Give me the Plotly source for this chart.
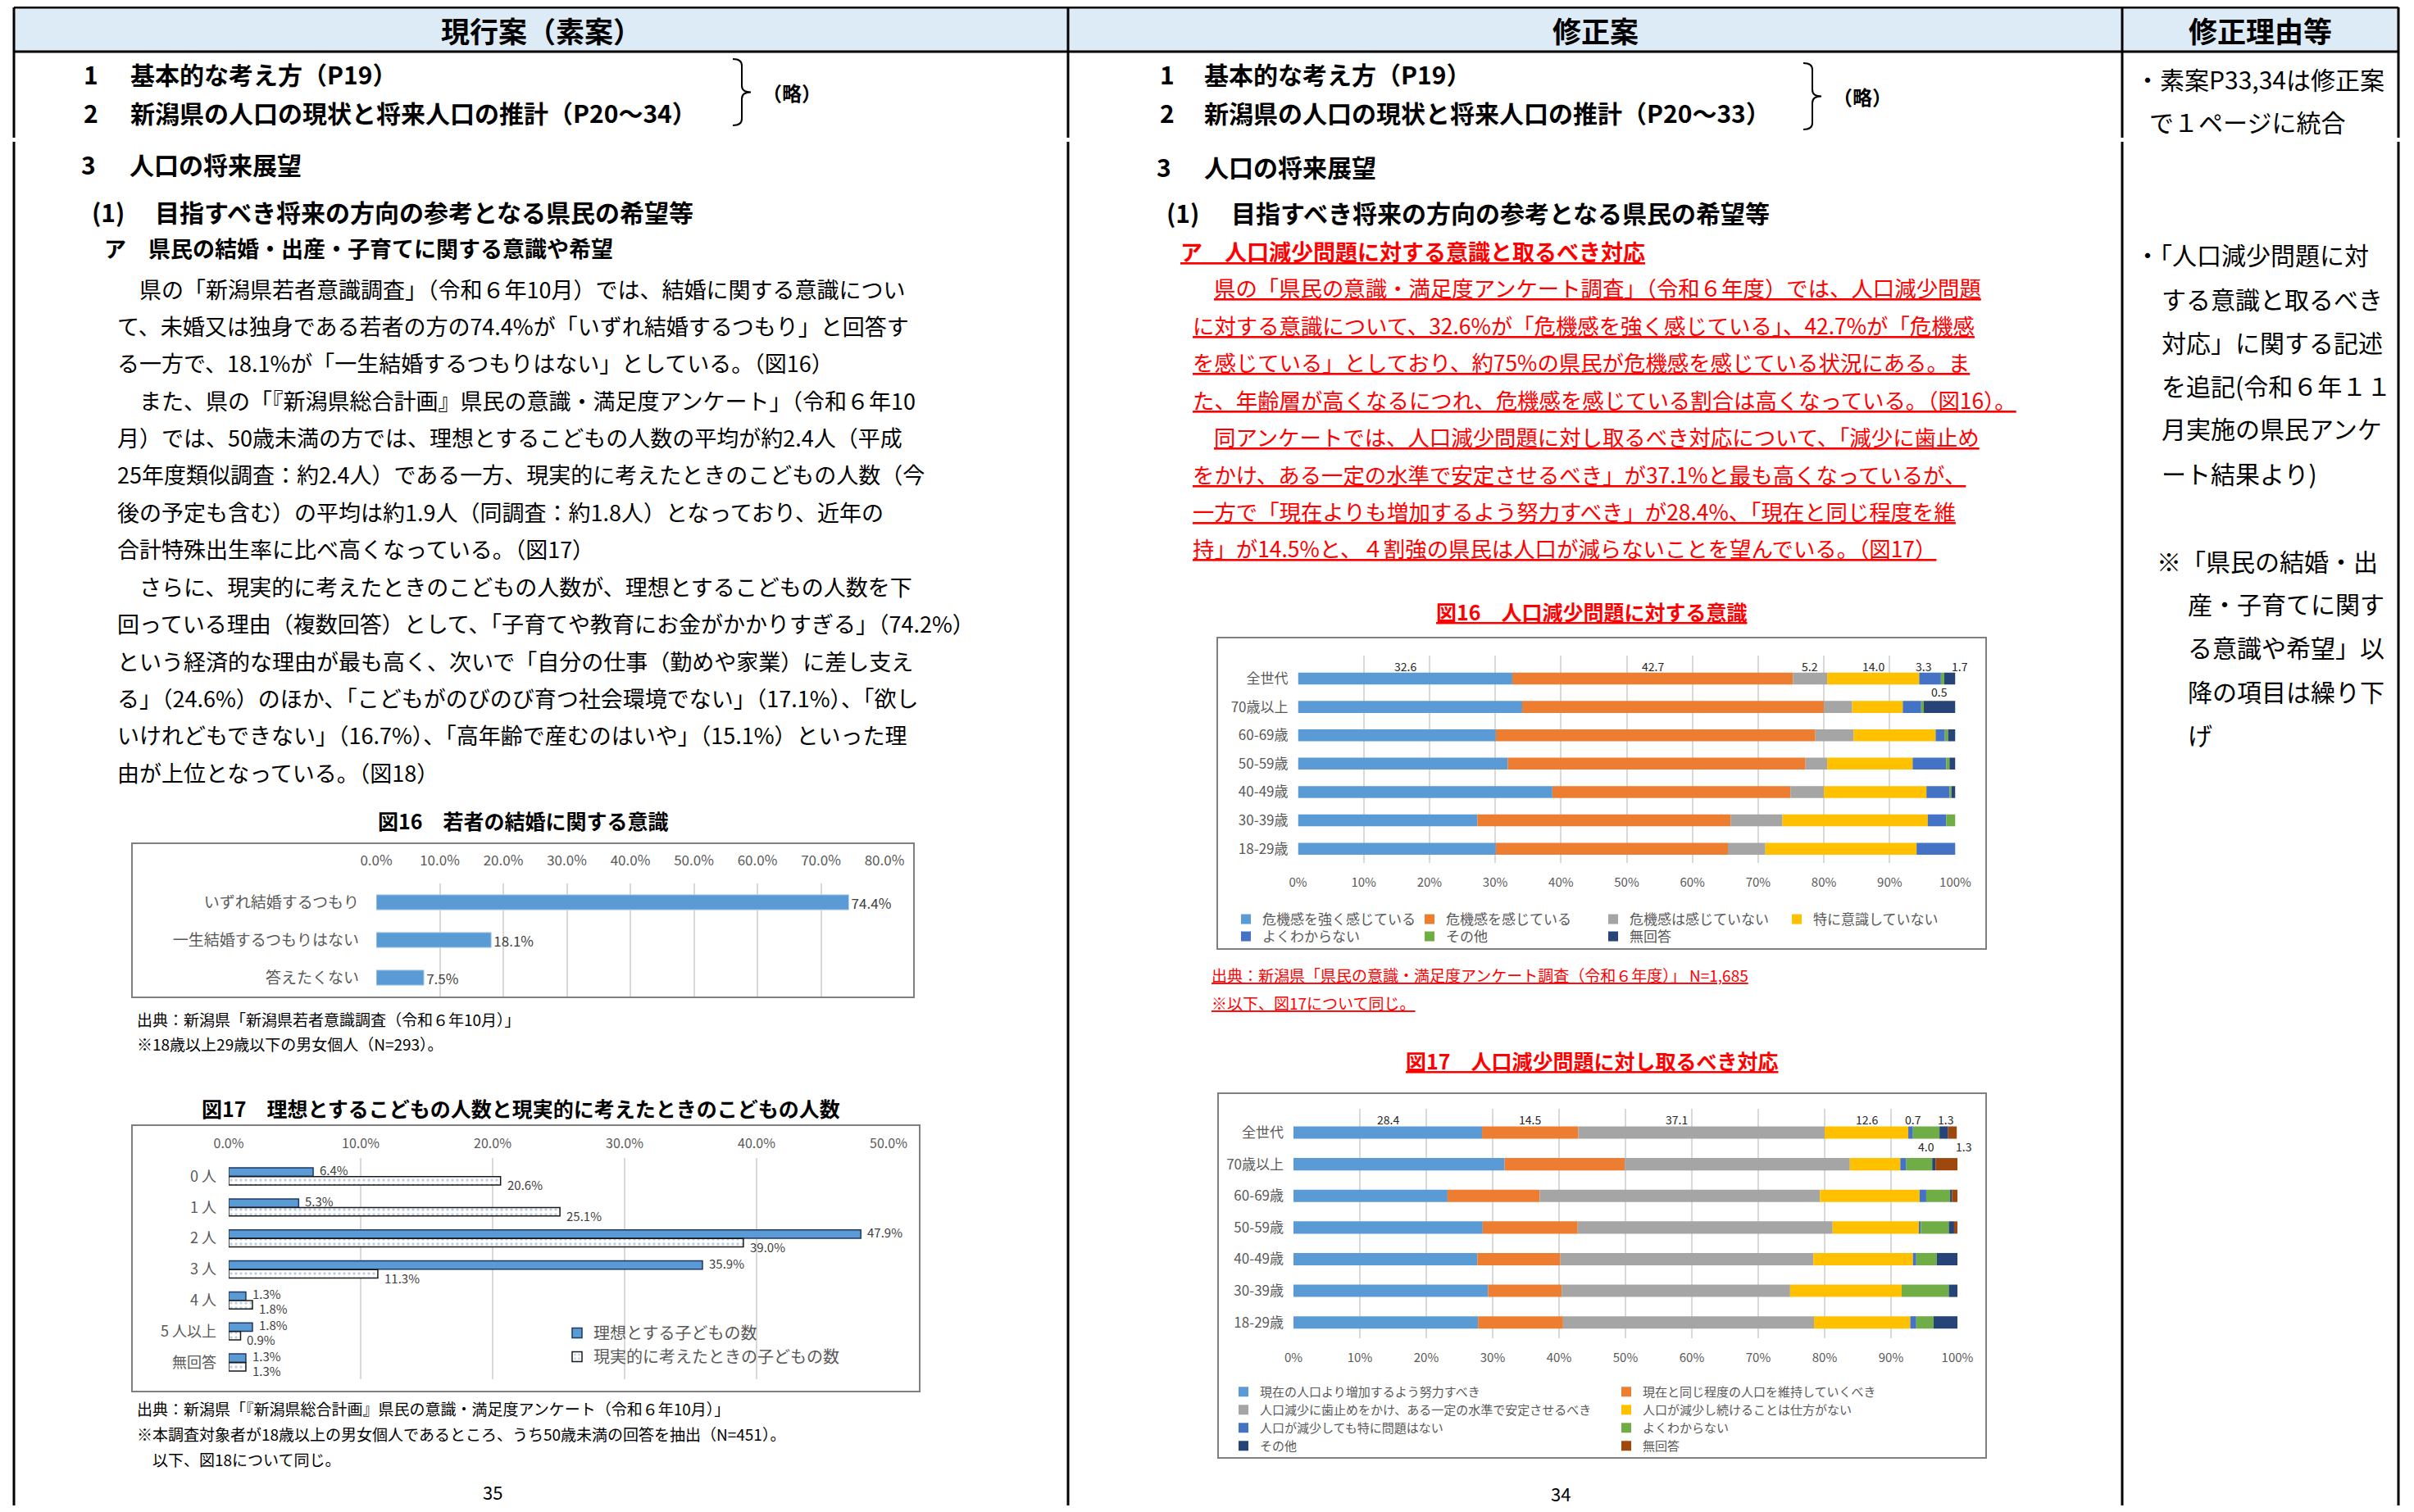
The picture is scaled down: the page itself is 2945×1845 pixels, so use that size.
import numpy as np
import plotly.graph_objects as go

# page geometry: the browser page is 2945x1845; the default body margin is 8px,
# so the figure itself is 16px smaller in each direction and fills the page exactly.
PAGE_W, PAGE_H = 2945, 1845
MARGIN = 8
FW, FH = PAGE_W - 2 * MARGIN, PAGE_H - 2 * MARGIN

FONT = "Noto Sans CJK JP"
TXT = "#000000"
AX = "#595959"
LAB = "#404040"
RED = "#FF0000"
GRID = "#D9D9D9"

# ---------------- data ----------------
fig16L_cats = ["いずれ結婚するつもり", "一生結婚するつもりはない", "答えたくない"]
fig16L_vals = [74.4, 18.1, 7.5]

fig17L_cats = ["0 人", "1 人", "2 人", "3 人", "4 人", "5 人以上", "無回答"]
fig17L_names = ["理想とする子どもの数", "現実的に考えたときの子どもの数"]
fig17L_ideal = [6.4, 5.3, 47.9, 35.9, 1.3, 1.8, 1.3]
fig17L_real = [20.6, 25.1, 39.0, 11.3, 1.8, 0.9, 1.3]

ages = ["全世代", "70歳以上", "60-69歳", "50-59歳", "40-49歳", "30-39歳", "18-29歳"]

fig16R_names = ["危機感を強く感じている", "危機感を感じている", "危機感は感じていない",
                "特に意識していない", "よくわからない", "その他", "無回答"]
fig16R_strong = [32.6, 34.1, 30.1, 31.9, 38.7, 27.3, 30.1]
fig16R_feel = [42.7, 45.9, 48.6, 45.3, 36.2, 38.5, 35.3]
fig16R_notfeel = [5.2, 4.3, 5.8, 3.3, 5.1, 7.9, 5.7]
fig16R_noaware = [14.0, 7.7, 12.5, 13.0, 15.6, 22.1, 23.0]
fig16R_unknown = [3.3, 2.8, 1.4, 5.1, 3.5, 2.8, 5.9]
fig16R_other = [0.5, 0.4, 0.5, 0.5, 0.3, 1.4, 0.0]
fig16R_noans = [1.7, 4.8, 1.1, 0.9, 0.6, 0.0, 0.0]

fig17R_names = ["現在の人口より増加するよう努力すべき", "現在と同じ程度の人口を維持していくべき",
                "人口減少に歯止めをかけ、ある一定の水準で安定させるべき", "人口が減少し続けることは仕方がない",
                "人口が減少しても特に問題はない", "よくわからない", "その他", "無回答"]
fig17R_increase = [28.4, 31.8, 23.2, 28.5, 27.7, 29.3, 27.8]
fig17R_keep = [14.5, 18.1, 13.9, 14.3, 12.5, 11.1, 12.8]
fig17R_stop = [37.1, 33.9, 42.2, 38.4, 38.1, 34.4, 37.8]
fig17R_accept = [12.6, 7.6, 15.0, 13.1, 15.0, 16.8, 14.5]
fig17R_noproblem = [0.7, 0.9, 1.0, 0.2, 0.5, 0.0, 0.9]
fig17R_unknown = [4.0, 3.9, 3.6, 4.2, 3.1, 7.1, 2.6]
fig17R_other = [1.3, 0.5, 0.3, 0.8, 3.1, 1.3, 3.6]
fig17R_noans = [1.3, 3.3, 0.8, 0.5, 0.0, 0.0, 0.0]

# ---------------- text ----------------
left_para = [
    (True, "県の「新潟県若者意識調査」（令和６年10月）では、結婚に関する意識につい"),
    (False, "て、未婚又は独身である若者の方の74.4%が「いずれ結婚するつもり」と回答す"),
    (False, "る一方で、18.1%が「一生結婚するつもりはない」としている。（図16）"),
    (True, "また、県の「『新潟県総合計画』県民の意識・満足度アンケート」（令和６年10"),
    (False, "月）では、50歳未満の方では、理想とするこどもの人数の平均が約2.4人（平成"),
    (False, "25年度類似調査：約2.4人）である一方、現実的に考えたときのこどもの人数（今"),
    (False, "後の予定も含む）の平均は約1.9人（同調査：約1.8人）となっており、近年の"),
    (False, "合計特殊出生率に比べ高くなっている。（図17）"),
    (True, "さらに、現実的に考えたときのこどもの人数が、理想とするこどもの人数を下"),
    (False, "回っている理由（複数回答）として、「子育てや教育にお金がかかりすぎる」（74.2%）"),
    (False, "という経済的な理由が最も高く、次いで「自分の仕事（勤めや家業）に差し支え"),
    (False, "る」（24.6%）のほか、「こどもがのびのび育つ社会環境でない」（17.1%）、「欲し"),
    (False, "いけれどもできない」（16.7%）、「高年齢で産むのはいや」（15.1%）といった理"),
    (False, "由が上位となっている。（図18）"),
]
right_para = [
    (True, "県の「県民の意識・満足度アンケート調査」（令和６年度）では、人口減少問題"),
    (False, "に対する意識について、32.6%が「危機感を強く感じている」、42.7%が「危機感"),
    (False, "を感じている」としており、約75%の県民が危機感を感じている状況にある。ま"),
    (False, "た、年齢層が高くなるにつれ、危機感を感じている割合は高くなっている。（図16）。"),
    (True, "同アンケートでは、人口減少問題に対し取るべき対応について、「減少に歯止め"),
    (False, "をかけ、ある一定の水準で安定させるべき」が37.1%と最も高くなっているが、"),
    (False, "一方で「現在よりも増加するよう努力すべき」が28.4%、「現在と同じ程度を維"),
    (False, "持」が14.5%と、４割強の県民は人口が減らないことを望んでいる。（図17）"),
]
reason_lines = [
    (2603, 96, "・素案P33,34は修正案"),
    (2620, 148, "で１ページに統合"),
    (2603, 310, "・「人口減少問題に対"),
    (2635, 364, "する意識と取るべき"),
    (2635, 417, "対応」に関する記述"),
    (2635, 470, "を追記(令和６年１１"),
    (2635, 522, "月実施の県民アンケ"),
    (2635, 577, "ート結果より)"),
    (2629, 684, "※「県民の結婚・出"),
    (2667, 736, "産・子育てに関す"),
    (2667, 789, "る意識や希望」以"),
    (2667, 843, "降の項目は繰り下"),
    (2667, 896, "げ"),
]


def X(p):
    return (p - MARGIN) / FW


def Y(p):
    return 1 - (p - MARGIN) / FH


fig = go.Figure()

# ---- left fig16 ----
fig.add_trace(go.Bar(
    x=fig16L_vals, y=fig16L_cats, orientation="h", width=0.4,
    marker=dict(color="#5B9BD5", line=dict(color="#BDD7EE", width=1)),
    text=[f"{v:.1f}%" for v in fig16L_vals], textposition="outside", constraintext="none",
    cliponaxis=False, textfont=dict(family=FONT, size=17, color=LAB),
    xaxis="x", yaxis="y", showlegend=False, hoverinfo="skip"))

# ---- left fig17 ----
fig.add_trace(go.Bar(
    x=fig17L_ideal, y=fig17L_cats, orientation="h", name=fig17L_names[0],
    offset=-0.275, width=0.27,
    marker=dict(color="#5B9BD5", line=dict(color="#1F3864", width=1.5)),
    xaxis="x2", yaxis="y2", legend="legend", hoverinfo="skip"))
fig.add_trace(go.Bar(
    x=fig17L_real, y=fig17L_cats, orientation="h", name=fig17L_names[1],
    offset=0.005, width=0.27,
    marker=dict(color="white",
                pattern=dict(shape=".", fgcolor="#7F9FC6", bgcolor="white", size=6, solidity=0.25),
                line=dict(color="#1A1A1A", width=1.5)),
    xaxis="x2", yaxis="y2", legend="legend", hoverinfo="skip"))

lab17L = []
for vals, dy in ((fig17L_ideal, 8), (fig17L_real, -10)):
    for c, v in zip(fig17L_cats, vals):
        lab17L.append(dict(x=v, y=c, xref="x2", yref="y2", text=f"{v:.1f}%", showarrow=False,
                           xanchor="left", yanchor="middle", xshift=6, yshift=dy,
                           font=dict(family=FONT, size=15, color=LAB)))


def stacked(names, values, colors, legends, xa, ya, width, shifts):
    base = np.zeros(len(ages))
    labels = []
    for nm, vals, col, lg, (dx, dy) in zip(names, values, colors, legends, shifts):
        v = np.asarray(vals, dtype=float)
        fig.add_trace(go.Bar(
            x=v, y=ages, base=base.copy(), orientation="h", name=nm, width=width,
            marker=dict(color=col, line=dict(width=0)),
            xaxis=xa, yaxis=ya, legend=lg, hoverinfo="skip"))
        labels.append(dict(x=base[0] + v[0] / 2, y=ages[0], xref=xa, yref=ya,
                           text=f"{v[0]:.1f}", showarrow=False, xshift=dx, yshift=dy,
                           font=dict(family=FONT, size=14, color="#262626")))
        base = base + v
    return labels


C8 = ["#5B9BD5", "#ED7D31", "#A5A5A5", "#FFC000", "#4472C4", "#70AD47", "#264478", "#9E480E"]

# legends are one per row (horizontal), so rows/columns line up like the original
lab16 = stacked(
    fig16R_names,
    [fig16R_strong, fig16R_feel, fig16R_notfeel, fig16R_noaware, fig16R_unknown, fig16R_other, fig16R_noans],
    C8[:7],
    ["legend2", "legend2", "legend2", "legend2", "legend3", "legend3", "legend3"],
    "x3", "y3", 0.42,
    [(0, 15), (0, 15), (0, 15), (0, 15), (-8, 15), (-4, -16), (12, 15)])

lab17 = stacked(
    fig17R_names,
    [fig17R_increase, fig17R_keep, fig17R_stop, fig17R_accept, fig17R_noproblem,
     fig17R_unknown, fig17R_other, fig17R_noans],
    C8,
    ["legend4", "legend4", "legend5", "legend5", "legend6", "legend6", "legend7", "legend7"],
    "x4", "y4", 0.39,
    [(0, 16), (0, 16), (-30, 16), (0, 16), (3, 16), (0, -17), (2, 16), (14, -17)])

# ---------------- annotations ----------------
ann = []


def T(x, y, s, size, color=TXT, xanchor="left", weight="normal", under=False):
    f = dict(family=FONT, size=size, color=color, weight=weight)
    if under:
        f["lineposition"] = "under"
    ann.append(dict(x=X(x), y=Y(y), xref="paper", yref="paper", text=s, showarrow=False,
                    xanchor=xanchor, yanchor="middle", font=f))


# headers
T(660, 36, "現行案（素案）", 35, xanchor="center", weight="bold")
T(1946, 36, "修正案", 35, xanchor="center", weight="bold")
T(2757, 36, "修正理由等", 35, xanchor="center", weight="bold")

# left headings
T(100, 90, "1", 30, weight="bold")
T(157, 90, "基本的な考え方（P19）", 30, weight="bold")
T(100, 137, "2", 30, weight="bold")
T(157, 137, "新潟県の人口の現状と将来人口の推計（P20～34）", 30, weight="bold")
T(928, 113, "（略）", 24, weight="bold")
T(97, 200, "3", 30, weight="bold")
T(156, 200, "人口の将来展望", 30, weight="bold")
T(110, 258, "(1)", 30, weight="bold")
T(187, 258, "目指すべき将来の方向の参考となる県民の希望等", 30, weight="bold")
T(125, 303, "ア　県民の結婚・出産・子育てに関する意識や希望", 27, weight="bold")

for i, (ind, s) in enumerate(left_para):
    T(141 + (27 if ind else 0), 352 + 45.4 * i, s, 27)

# right headings
T(1413, 90, "1", 30, weight="bold")
T(1467, 90, "基本的な考え方（P19）", 30, weight="bold")
T(1413, 137, "2", 30, weight="bold")
T(1467, 137, "新潟県の人口の現状と将来人口の推計（P20～33）", 30, weight="bold")
T(2234, 117, "（略）", 24, weight="bold")
T(1409, 203, "3", 30, weight="bold")
T(1467, 203, "人口の将来展望", 30, weight="bold")
T(1421, 259, "(1)", 30, weight="bold")
T(1500, 259, "目指すべき将来の方向の参考となる県民の希望等", 30, weight="bold")
T(1438, 306, "ア　人口減少問題に対する意識と取るべき対応", 27, color=RED, weight="bold", under=True)

for i, (ind, s) in enumerate(right_para):
    T(1453 + (26.4 if ind else 0), 351 + 45.4 * i, s, 26.4, color=RED, under=True)

# reasons column
for x, y, s in reason_lines:
    T(x, y, s, 30)

# figure titles & notes (left)
T(638, 1001, "図16　若者の結婚に関する意識", 25, xanchor="center", weight="bold")
T(165, 1243, "出典：新潟県「新潟県若者意識調査（令和６年10月）」", 19)
T(165, 1273, "※18歳以上29歳以下の男女個人（N=293）。", 19)
T(635, 1352, "図17　理想とするこどもの人数と現実的に考えたときのこどもの人数", 25, xanchor="center", weight="bold")
T(165, 1718, "出典：新潟県「『新潟県総合計画』県民の意識・満足度アンケート（令和６年10月）」", 19)
T(165, 1749, "※本調査対象者が18歳以上の男女個人であるところ、うち50歳未満の回答を抽出（N=451）。", 19)
T(184, 1780, "以下、図18について同じ。", 19)
T(601, 1820, "35", 22, xanchor="center")

# figure titles & notes (right)
T(1942, 746, "図16　人口減少問題に対する意識", 25, color=RED, xanchor="center", weight="bold", under=True)
T(1476, 1189, "出典：新潟県「県民の意識・満足度アンケート調査（令和６年度）」 N=1,685", 19, color=RED, under=True)
T(1476, 1223, "※以下、図17について同じ。", 19, color=RED, under=True)
T(1942, 1294, "図17　人口減少問題に対し取るべき対応", 25, color=RED, xanchor="center", weight="bold", under=True)
T(1904, 1822, "34", 22, xanchor="center")

# ---------------- shapes ----------------
shapes = []
BOTTOM = PAGE_H - MARGIN


def line(x0, y0, x1, y1, w=3, color="black"):
    shapes.append(dict(type="line", xref="paper", yref="paper", x0=X(x0), y0=Y(y0), x1=X(x1), y1=Y(y1),
                       line=dict(color=color, width=w)))


def rect(x0, y0, x1, y1, color="#7F7F7F", w=2, fill="rgba(0,0,0,0)"):
    shapes.append(dict(type="rect", xref="paper", yref="paper", x0=X(x0), y0=Y(y0), x1=X(x1), y1=Y(y1),
                       line=dict(color=color, width=w), fillcolor=fill, layer="below"))


shapes.append(dict(type="rect", xref="paper", yref="paper", x0=X(17), y0=Y(9), x1=X(2926), y1=Y(63),
                   line=dict(width=0), fillcolor="#DDEBF7", layer="below"))
line(17, 9, 2926, 9)
line(17, 63, 2926, 63)
for xv in (17, 1303, 2589, 2926):
    line(xv, 9, xv, 168)
    line(xv, 173, xv, BOTTOM)

# chart boxes
rect(161, 1029, 1115, 1217)
rect(161, 1373, 1122, 1698)
rect(1485, 778, 2423, 1158)
rect(1486, 1334, 2423, 1779)


def brace(x0, xs, xp, yt, yb, r=8):
    ym = (yt + yb) / 2
    pts = [
        f"M{X(x0)},{Y(yt)}",
        f"Q{X(xs)},{Y(yt)} {X(xs)},{Y(yt + r)}",
        f"L{X(xs)},{Y(ym - r)}",
        f"Q{X(xs)},{Y(ym)} {X(xp)},{Y(ym)}",
        f"Q{X(xs)},{Y(ym)} {X(xs)},{Y(ym + r)}",
        f"L{X(xs)},{Y(yb - r)}",
        f"Q{X(xs)},{Y(yb)} {X(x0)},{Y(yb)}",
    ]
    shapes.append(dict(type="path", xref="paper", yref="paper", path=" ".join(pts),
                       line=dict(color="black", width=2)))


brace(894, 905, 916, 72, 153)
brace(2200, 2211, 2222, 77, 158)


# ---------------- axes ----------------
def xax(dom, anchor, rng, side, fmt, size, standoff):
    return dict(domain=[X(dom[0]), X(dom[1])], anchor=anchor, range=rng, dtick=10, tick0=0,
                side=side, tickformat=fmt, ticksuffix="%", showgrid=True, gridcolor=GRID,
                gridwidth=1.5, zeroline=False, showline=False, ticks="", automargin=False,
                tickfont=dict(family=FONT, size=size, color=AX), ticklabelstandoff=standoff,
                fixedrange=True)


def yax(dom, anchor, cats, size, standoff):
    return dict(domain=[Y(dom[1]), Y(dom[0])], anchor=anchor, type="category",
                categoryorder="array", categoryarray=cats, autorange="reversed",
                showgrid=False, zeroline=False, showline=False, ticks="", automargin=False,
                tickfont=dict(family=FONT, size=size, color=AX), ticklabelstandoff=standoff,
                fixedrange=True)


def leg(x, y, size, orientation="v", entrywidth=None):
    d = dict(x=X(x), y=Y(y), xref="paper", yref="paper", xanchor="left", yanchor="top",
             orientation=orientation, bgcolor="rgba(0,0,0,0)", borderwidth=0, itemwidth=30,
             tracegroupgap=0, font=dict(family=FONT, size=size, color=AX), traceorder="normal")
    if entrywidth is not None:
        d["entrywidth"] = entrywidth
        d["entrywidthmode"] = "pixels"
    return d


fig.update_layout(
    width=FW, height=FH, autosize=False,
    margin=dict(l=0, r=0, t=0, b=0, pad=0, autoexpand=False),
    paper_bgcolor="white", plot_bgcolor="rgba(0,0,0,0)",
    barmode="overlay", font=dict(family=FONT, color=TXT),
    xaxis=xax((459, 1079), "y", [0, 80], "top", ".1f", 17, 18),
    yaxis=yax((1078, 1216), "x", fig16L_cats, 19, 20),
    xaxis2=xax((279, 1084), "y2", [0, 50], "top", ".1f", 16, 8),
    yaxis2=yax((1413, 1683), "x2", fig17L_cats, 18, 14),
    xaxis3=xax((1583.5, 2385.5), "y3", [0, 100], "bottom", "d", 15, 13),
    yaxis3=yax((800, 1053), "x3", ages, 17, 11),
    xaxis4=xax((1578, 2388), "y4", [0, 100], "bottom", "d", 15, 13),
    yaxis4=yax((1353, 1633), "x4", ages, 17, 11),
    legend=leg(684, 1607, 20),
    legend2=leg(1500, 1104, 17, "h", 179),
    legend3=leg(1500, 1125, 17, "h", 179),
    legend4=leg(1497, 1682, 15, "h", 422),
    legend5=leg(1497, 1704, 15, "h", 422),
    legend6=leg(1497, 1726, 15, "h", 422),
    legend7=leg(1497, 1748, 15, "h", 422),
    shapes=shapes,
    annotations=ann + lab16 + lab17 + lab17L,
)

fig.write_html("out.html")
